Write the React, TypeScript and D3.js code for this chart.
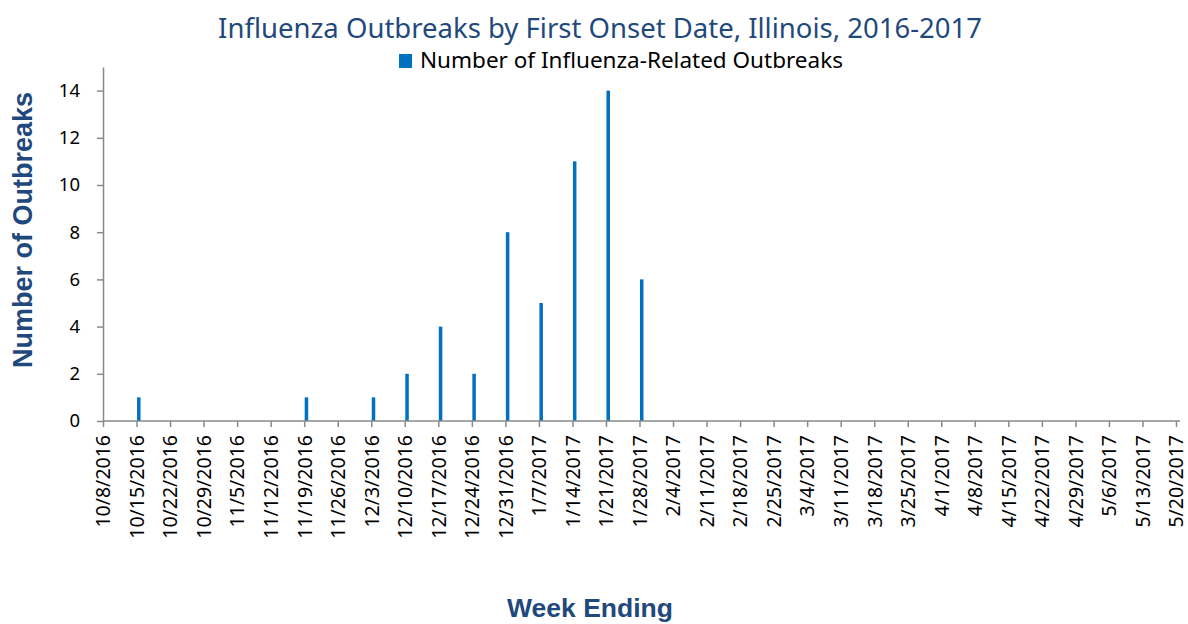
// @ts-nocheck
import { useEffect, useRef } from "react";
import * as d3 from "d3";

const weeks = [
  "10/8/2016", "10/15/2016", "10/22/2016", "10/29/2016", "11/5/2016", "11/12/2016",
  "11/19/2016", "11/26/2016", "12/3/2016", "12/10/2016", "12/17/2016", "12/24/2016",
  "12/31/2016", "1/7/2017", "1/14/2017", "1/21/2017", "1/28/2017", "2/4/2017",
  "2/11/2017", "2/18/2017", "2/25/2017", "3/4/2017", "3/11/2017", "3/18/2017",
  "3/25/2017", "4/1/2017", "4/8/2017", "4/15/2017", "4/22/2017", "4/29/2017",
  "5/6/2017", "5/13/2017", "5/20/2017",
];

const outbreaks = [
  0, 1, 0, 0, 0, 0, 1, 0, 1, 2, 4, 2, 8, 5, 11, 14, 6, 0, 0, 0, 0, 0, 0, 0, 0, 0,
  0, 0, 0, 0, 0, 0, 0,
];

const yTicks = [0, 2, 4, 6, 8, 10, 12, 14];

const seriesName = "Number of Influenza-Related Outbreaks";

const App = () => {
  const ref = useRef(null);

  useEffect(() => {
    document.body.style.margin = "0";
    const width = 1188;
    const height = 624;
    const margin = { top: 67, right: 12, bottom: 203, left: 103 };
    const font = "'Noto Sans', sans-serif";
    const boldFont = "'Liberation Sans', Arial, sans-serif";
    const axisColor = "#898989";
    const titleColor = "#1F497D";

    d3.select(ref.current).selectAll("*").remove();

    const svg = d3
      .select(ref.current)
      .append("svg")
      .attr("width", width)
      .attr("height", height)
      .style("display", "block")
      .style("background", "#fff");

    const x = d3.scalePoint().domain(weeks).range([margin.left, 1176]);

    const y = d3
      .scaleLinear()
      .domain([0, 15])
      .range([height - margin.bottom, margin.top]);

    // y axis
    svg
      .append("g")
      .attr("transform", `translate(${margin.left},0)`)
      .call(d3.axisLeft(y).tickValues(yTicks).tickSize(6).tickSizeOuter(0))
      .call((g) => g.select(".domain").attr("stroke", axisColor).attr("stroke-width", 1.5))
      .call((g) => g.selectAll(".tick line").attr("stroke", axisColor).attr("stroke-width", 1.5))
      .call((g) =>
        g
          .selectAll(".tick text")
          .attr("x", -23)
          .attr("fill", "#000")
          .attr("font-family", font)
          .attr("font-size", 18.5)
      );

    // bars
    svg
      .append("g")
      .selectAll("rect")
      .data(outbreaks)
      .join("rect")
      .attr("x", (d, i) => x(weeks[i]) + 0.5)
      .attr("width", 3.5)
      .attr("y", (d) => y(d))
      .attr("height", (d) => y(0) - y(d))
      .attr("fill", "#0070C0");

    // x axis
    svg
      .append("g")
      .attr("transform", `translate(0,${y(0)})`)
      .call(d3.axisBottom(x).tickSize(6).tickSizeOuter(0))
      .call((g) =>
        g
          .select(".domain")
          .attr("stroke", axisColor)
          .attr("stroke-width", 1.5)
          .attr("d", `M${margin.left},0H1180`)
      )
      .call((g) => g.selectAll(".tick line").attr("stroke", axisColor).attr("stroke-width", 1.5))
      .call((g) =>
        g
          .selectAll(".tick text")
          .attr("transform", "rotate(-90)")
          .attr("text-anchor", "end")
          .attr("x", -14)
          .attr("y", 0)
          .attr("dy", "0.35em")
          .attr("fill", "#000")
          .attr("font-family", font)
          .attr("font-size", 19.5)
      );

    // title
    svg
      .append("text")
      .attr("x", 600)
      .attr("y", 38)
      .attr("text-anchor", "middle")
      .attr("font-family", font)
      .attr("font-size", 27.5)
      .attr("fill", titleColor)
      .text("Influenza Outbreaks by First Onset Date, Illinois, 2016-2017");

    // legend
    svg
      .append("rect")
      .attr("x", 399)
      .attr("y", 54)
      .attr("width", 13)
      .attr("height", 14)
      .attr("fill", "#0070C0");
    svg
      .append("text")
      .attr("x", 420)
      .attr("y", 68)
      .attr("font-family", font)
      .attr("font-size", 22.5)
      .attr("fill", "#000")
      .text(seriesName);

    // axis titles
    svg
      .append("text")
      .attr("transform", `translate(32,230) rotate(-90)`)
      .attr("text-anchor", "middle")
      .attr("font-family", boldFont)
      .attr("font-weight", "bold")
      .attr("font-size", 27)
      .attr("fill", titleColor)
      .text("Number of Outbreaks");

    svg
      .append("text")
      .attr("x", 590)
      .attr("y", 617)
      .attr("text-anchor", "middle")
      .attr("font-family", boldFont)
      .attr("font-weight", "bold")
      .attr("font-size", 26.5)
      .attr("fill", titleColor)
      .text("Week Ending");
  }, []);

  return <div ref={ref}></div>;
};

export default App;
